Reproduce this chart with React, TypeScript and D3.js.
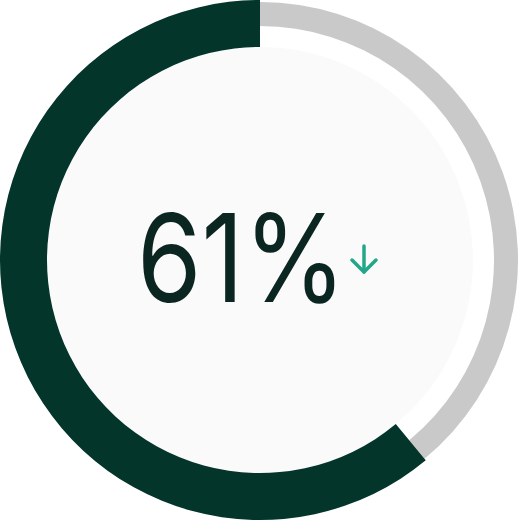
import React from "react";
import * as d3 from "d3";

const labels = ["Completed", "Remaining"];
const values = [61, 39];
const displayText = "61%";

const W = 520;
const H = 520;

export default function App() {
  const cx = W / 2;
  const cy = H / 2;
  const total = d3.sum(values);
  const angle = d3.scaleLinear().domain([0, total]).range([0, 2 * Math.PI]);

  const darkArc = d3
    .arc<any>()
    .innerRadius(213)
    .outerRadius(260)
    .startAngle(-angle(values[0]))
    .endAngle(0);
  const grayArc = d3
    .arc<any>()
    .innerRadius(234)
    .outerRadius(258)
    .startAngle(0)
    .endAngle(angle(values[1]));

  return (
    <svg
      width={W}
      height={H}
      style={{ position: "absolute", left: 0, top: 0 }}
      viewBox={`0 0 ${W} ${H}`}
    >
      <rect width={W} height={H} fill="#ffffff" />
      <g transform={`translate(${cx},${cy})`}>
        <circle r={213} fill="#fafafa" />
        <path d={grayArc(null as any) || ""} fill="#c9c9c9" aria-label={labels[1]} />
        <path d={darkArc(null as any) || ""} fill="#03352b" aria-label={labels[0]} />
        <text
          x={-123}
          y={42}
          textAnchor="start"
          fontFamily="Inter, 'Noto Sans', sans-serif"
          fontSize={122}
          fontWeight={400}
          fill="#0b2620"
          textLength={209}
          lengthAdjust="spacingAndGlyphs"
        >
          {displayText}
        </text>
        <g
          transform="translate(104,0)"
          stroke="#23a68a"
          strokeWidth={3.5}
          fill="none"
          strokeLinecap="round"
          strokeLinejoin="round"
        >
          <line x1={0} y1={-14} x2={0} y2={12} />
          <polyline points="-12,0 0,12 12,0" />
        </g>
      </g>
    </svg>
  );
}
